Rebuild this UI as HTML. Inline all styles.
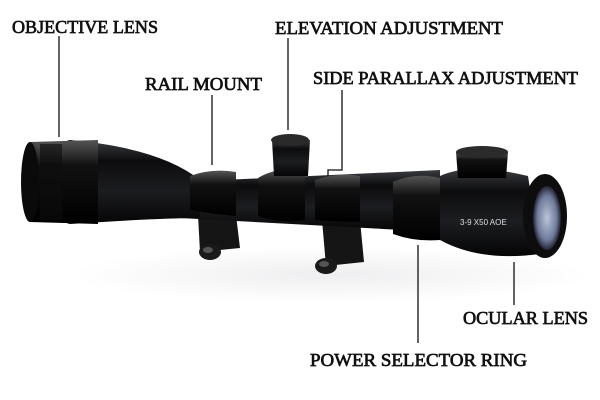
<!DOCTYPE html>
<html><head><meta charset="utf-8"><style>
html,body{margin:0;padding:0;background:#fff;width:600px;height:400px;overflow:hidden}
text{font-family:"Liberation Serif",serif;font-size:18px;fill:#111;stroke:#111;stroke-width:0.7}
</style></head><body>
<svg width="600" height="400" viewBox="0 0 600 400" xmlns="http://www.w3.org/2000/svg">
<defs>
<linearGradient id="g" x1="0" y1="0" x2="0" y2="1">
<stop offset="0" stop-color="#3a3c40"/><stop offset="0.25" stop-color="#0c0c0e"/><stop offset="0.6" stop-color="#1c1d20"/><stop offset="1" stop-color="#050506"/></linearGradient>
<linearGradient id="g2" x1="0" y1="0" x2="0" y2="1">
<stop offset="0" stop-color="#555"/><stop offset="0.3" stop-color="#111"/><stop offset="1" stop-color="#000"/></linearGradient>
<radialGradient id="lens" cx="0.5" cy="0.5" r="0.5"><stop offset="0" stop-color="#bcc6d8"/><stop offset="0.7" stop-color="#6d7a9a"/><stop offset="1" stop-color="#223"/></radialGradient>
<radialGradient id="sh" cx="0.5" cy="0.5" r="0.5"><stop offset="0" stop-color="#eeeef0"/><stop offset="1" stop-color="#fff"/></radialGradient>
</defs>
<ellipse cx="330" cy="275" rx="260" ry="28" fill="url(#sh)"/>
<path d="M198 215 L236 215 L240 248 L200 252 Z" fill="#151515"/>
<path d="M322 220 L360 220 L364 262 L326 266 Z" fill="#151515"/>
<ellipse cx="210" cy="252" rx="11" ry="8" fill="#1a1a1a"/><ellipse cx="208" cy="250" rx="5" ry="3" fill="#555"/>
<ellipse cx="326" cy="266" rx="11" ry="8" fill="#1a1a1a"/><ellipse cx="324" cy="264" rx="5" ry="3" fill="#555"/>
<path d="M180 182 L440 170 L440 232 L180 218 Z" fill="url(#g)"/>
<path d="M70 140 Q160 148 200 180 L200 218 Q160 218 70 224 Z" fill="url(#g)"/>
<ellipse cx="70" cy="182" rx="14" ry="42" fill="#111"/>
<path d="M30 142 L98 140 L98 224 L30 222 Z" fill="url(#g2)"/>
<ellipse cx="30" cy="182" rx="9" ry="40" fill="#0a0a0a"/>
<rect x="40" y="144" width="22" height="76" fill="#0e0e0e" opacity="0.6"/>
<path d="M190 176 Q212 168 236 172 L236 216 Q212 214 190 210 Z" fill="url(#g2)"/>
<path d="M315 180 Q338 172 360 176 L360 222 Q338 222 315 220 Z" fill="url(#g2)"/>
<path d="M258 178 Q280 165 305 172 L305 220 Q280 224 258 216 Z" fill="url(#g2)"/>
<path d="M272 140 L310 140 L308 176 L274 176 Z" fill="url(#g)"/>
<ellipse cx="290" cy="140" rx="19" ry="6" fill="#2a2a2a"/>
<path d="M393 182 Q415 172 440 178 L440 240 Q415 242 393 234 Z" fill="url(#g2)"/>
<path d="M440 176 Q470 162 528 176 L540 254 Q480 262 440 240 Z" fill="url(#g)"/>
<path d="M456 152 L508 152 L506 178 L458 178 Z" fill="url(#g2)"/>
<ellipse cx="482" cy="152" rx="26" ry="6" fill="#2b2b2b"/>
<ellipse cx="545" cy="216" rx="22" ry="42" fill="#0d0d0d"/>
<ellipse cx="547" cy="218" rx="14" ry="32" fill="url(#lens)"/>
<text x="460" y="225" style="font-family:'Liberation Sans',sans-serif;font-size:8px;fill:#ddd;stroke:none">3-9 X50 AOE</text>
<g stroke="#111" stroke-width="1.3" fill="none">
<line x1="59" y1="36" x2="59" y2="137"/>
<line x1="288" y1="38" x2="288" y2="130"/>
<line x1="212" y1="95" x2="212" y2="165"/>
<polyline points="342,90 342,170 328,170 328,176"/>
<line x1="514" y1="262" x2="514" y2="305"/>
<line x1="418" y1="245" x2="418" y2="343"/>
</g>
<text x="12" y="33" textLength="146" lengthAdjust="spacingAndGlyphs">OBJECTIVE LENS</text>
<text x="275" y="34" textLength="228" lengthAdjust="spacingAndGlyphs">ELEVATION ADJUSTMENT</text>
<text x="145" y="90" textLength="117" lengthAdjust="spacingAndGlyphs">RAIL MOUNT</text>
<text x="313" y="84" textLength="265" lengthAdjust="spacingAndGlyphs">SIDE PARALLAX ADJUSTMENT</text>
<text x="463" y="324" textLength="125" lengthAdjust="spacingAndGlyphs">OCULAR LENS</text>
<text x="310" y="366" textLength="217" lengthAdjust="spacingAndGlyphs">POWER SELECTOR RING</text>
</svg>
</body></html>
